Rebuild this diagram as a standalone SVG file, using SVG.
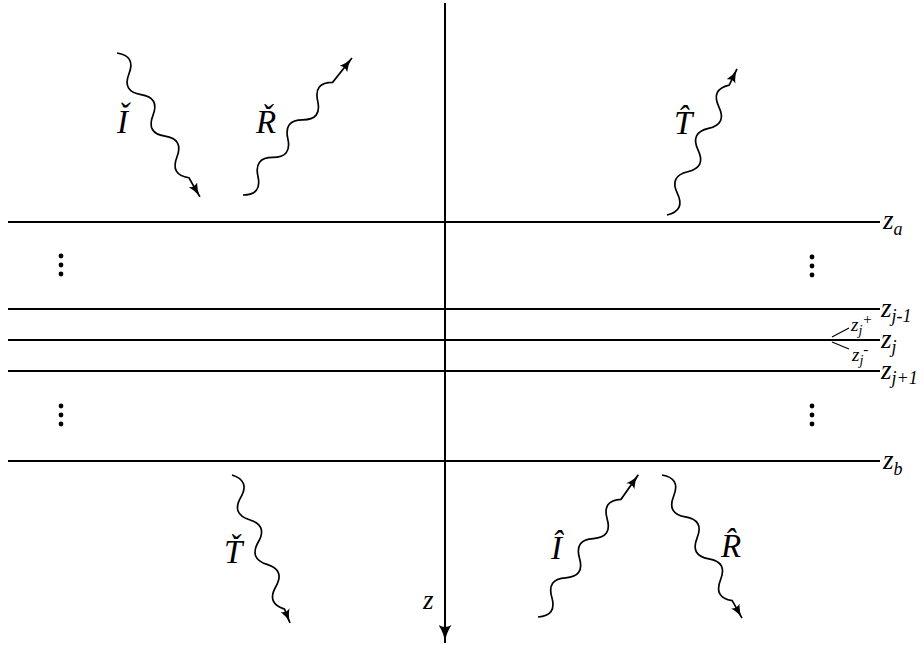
<svg xmlns="http://www.w3.org/2000/svg" width="923" height="645" viewBox="0 0 923 645">
<style>
.ln{stroke:#000;stroke-width:1.8;fill:none}
.wv{stroke:#000;stroke-width:1.7;fill:none;marker-end:url(#ah)}
.m{font-family:"Liberation Serif","DejaVu Serif",serif;font-style:italic;fill:#000}
.big{font-size:33px}
.zl{font-size:27px}
.sb{font-size:18px}
.sm{font-size:19px}
.dot{fill:#000}
</style>
<defs>
<marker id="ah" viewBox="0 0 14 10" refX="14" refY="5" markerWidth="14" markerHeight="10" orient="auto" markerUnits="userSpaceOnUse">
<path d="M0,0 Q6,4 14,5 Q6,6 0,10 Q3.5,5 0,0 Z" fill="#000"/>
</marker>
<marker id="axh" viewBox="0 0 18 13" refX="18" refY="6.5" markerWidth="18" markerHeight="13" orient="auto" markerUnits="userSpaceOnUse">
<path d="M0,0 Q8,5.5 18,6.5 Q8,7.5 0,13 Q4,6.5 0,0 Z" fill="#000"/>
</marker>
</defs>
<g id="layers">
<line class="ln" x1="8" y1="222" x2="880" y2="222"/>
<line class="ln" x1="8" y1="309" x2="880" y2="309"/>
<line class="ln" x1="8" y1="340" x2="880" y2="340"/>
<line class="ln" x1="8" y1="371" x2="880" y2="371"/>
<line class="ln" x1="8" y1="461" x2="880" y2="461"/>
</g>
<g id="axis">
<line x1="445" y1="3" x2="445" y2="643" stroke="#000" stroke-width="2" marker-end="url(#axh)"/>
<text class="m zl" x="423" y="609">z</text>
</g>
<g id="dots">
<circle class="dot" cx="61" cy="256" r="2.4"/><circle class="dot" cx="61" cy="265" r="2.4"/><circle class="dot" cx="61" cy="274" r="2.4"/>
<circle class="dot" cx="61" cy="406" r="2.4"/><circle class="dot" cx="61" cy="415" r="2.4"/><circle class="dot" cx="61" cy="424" r="2.4"/>
<circle class="dot" cx="812" cy="257" r="2.4"/><circle class="dot" cx="812" cy="266" r="2.4"/><circle class="dot" cx="812" cy="275" r="2.4"/>
<circle class="dot" cx="812" cy="406" r="2.4"/><circle class="dot" cx="812" cy="415" r="2.4"/><circle class="dot" cx="812" cy="424" r="2.4"/>
</g>
<g id="layer-labels">
<text class="m zl" x="883" y="229">z<tspan class="sb" dy="6">a</tspan></text>
<text class="m zl" x="881" y="317">z<tspan class="sb" dy="5">j-1</tspan></text>
<text class="m zl" x="881" y="348">z<tspan class="sb" dy="5">j</tspan></text>
<text class="m zl" x="881" y="379">z<tspan class="sb" dy="5">j+1</tspan></text>
<text class="m zl" x="883" y="469">z<tspan class="sb" dy="6">b</tspan></text>
<line x1="832" y1="337" x2="849" y2="328" stroke="#000" stroke-width="1.1"/>
<line x1="832" y1="342" x2="849" y2="349" stroke="#000" stroke-width="1.1"/>
<text class="m sm" x="851" y="331">z<tspan font-size="14" dy="4">j</tspan><tspan font-size="15" dy="-11">+</tspan></text>
<text class="m sm" x="852" y="361">z<tspan font-size="14" dy="4">j</tspan><tspan font-size="15" dy="-11">-</tspan></text>
</g>
<g id="connectors">
<path id="w-Ic" class="wv" transform="translate(117,53) rotate(60.04)" d="M0,0 c8,-10 16,-10 24,0 s16,10 24,0 s16,-10 24,0 s16,10 24,0 s16,-10 24,0 s16,10 24,0 l22,0"/>
<path id="w-Rc" class="wv" transform="translate(243,195) rotate(-51.5)" d="M0,0 c8,10 16,10 24,0 s16,-10 24,0 s16,10 24,0 s16,-10 24,0 s16,10 24,0 s16,-10 24,0 l31,0"/>
<path id="w-Th" class="wv" transform="translate(667,215) rotate(-64.4)" d="M0,0 c8,10 16,10 24,0 s16,-10 24,0 s16,10 24,0 s16,-10 24,0 s16,10 24,0 s16,-10 24,0 l18,0"/>
<path id="w-Tc" class="wv" transform="translate(232,475) rotate(68.6)" d="M0,0 c8,-10 16,-10 24,0 s16,10 24,0 s16,-10 24,0 s16,10 24,0 s16,-10 24,0 s16,10 24,0 l15,0"/>
<path id="w-Ih" class="wv" transform="translate(538,617) rotate(-54.8)" d="M0,0 c8,10 16,10 24,0 s16,-10 24,0 s16,10 24,0 s16,-10 24,0 s16,10 24,0 s16,-10 24,0 l30,0"/>
<path id="w-Rh" class="wv" transform="translate(662,475) rotate(60.8)" d="M0,0 c8,-10 16,-10 24,0 s16,10 24,0 s16,-10 24,0 s16,10 24,0 s16,-10 24,0 s16,10 24,0 l20,0"/>
</g>
<g id="label-Ic"><text class="m big" x="117" y="133">Ǐ</text></g>
<g id="label-Rc"><text class="m big" x="256" y="133">Ř</text></g>
<g id="label-Th"><text class="m big" x="674" y="134">T̂</text></g>
<g id="label-Tc"><text class="m big" x="224" y="563">Ť</text></g>
<g id="label-Ih"><text class="m big" x="551" y="559">Î</text></g>
<g id="label-Rh"><text class="m big" x="721" y="557">R̂</text></g>
</svg>
